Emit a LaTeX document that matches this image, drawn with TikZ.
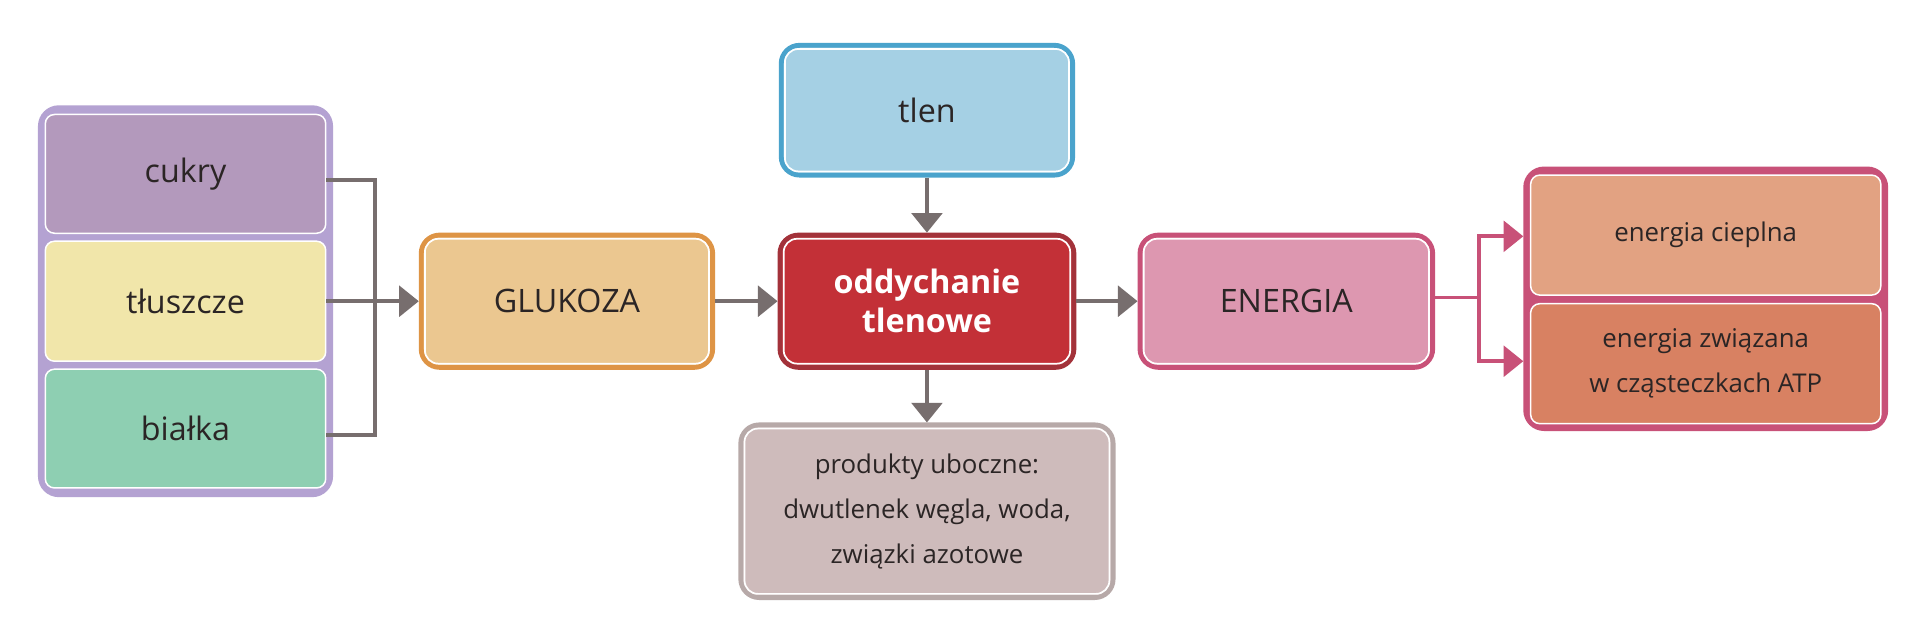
\documentclass[tikz,border=0pt]{standalone}
\usepackage{fontspec}
\setmainfont{Open Sans}
\usetikzlibrary{arrows.meta}
\definecolor{gr}{HTML}{776E6E}
\definecolor{lavb}{HTML}{B4A2D2}
\definecolor{cuk}{HTML}{B399BC}
\definecolor{tlu}{HTML}{F1E6AA}
\definecolor{bia}{HTML}{8ECFB2}
\definecolor{glub}{HTML}{DE9445}
\definecolor{gluf}{HTML}{EBC790}
\definecolor{oddb}{HTML}{A3323A}
\definecolor{oddf}{HTML}{C33037}
\definecolor{tlb}{HTML}{4AA3CC}
\definecolor{tlf}{HTML}{A5D0E4}
\definecolor{prb}{HTML}{B7A9A8}
\definecolor{prf}{HTML}{CEBBBB}
\definecolor{enb}{HTML}{C85178}
\definecolor{enf}{HTML}{DD97B0}
\definecolor{cie}{HTML}{E2A282}
\definecolor{zwi}{HTML}{D88162}
\definecolor{txt}{HTML}{2B2525}
\tikzset{
  box/.style={draw, line width=0.08cm, rounded corners=0.3cm, text=txt, align=center, font=\fontsize{15}{18}\selectfont},
  sub/.style={draw=white, line width=0.7pt, rounded corners=0.15cm, text=txt, align=center},
  inl/.style={draw=white, line width=0.8pt, rounded corners=0.22cm},
  arr/.style={draw=gr, line width=0.06cm, -{Triangle[length=0.32cm,width=0.5cm]}},
  con/.style={draw=gr, line width=0.06cm},
}
\newcommand{\inner}[1]{\draw[inl] ([shift={(5,-5)}]#1.south west) rectangle ([shift={(-5,5)}]#1.north east);}
\begin{document}
\begin{tikzpicture}[x=0.02cm,y=-0.02cm]
\useasboundingbox[fill=white] (0,0) rectangle (1568,523);
% left group
\node[box, draw=lavb, fill=lavb, minimum width=237*0.02cm, minimum height=316*0.02cm] (lg) at (151.5,246) {};
\node[sub, fill=cuk, minimum width=229*0.02cm, minimum height=97*0.02cm, font=\fontsize{15}{18}\selectfont] (cukry) at (151.5,142) {cukry};
\node[sub, fill=tlu, minimum width=229*0.02cm, minimum height=98*0.02cm, font=\fontsize{15}{18}\selectfont] (tlu) at (151.5,246) {tłuszcze};
\node[sub, fill=bia, minimum width=229*0.02cm, minimum height=97*0.02cm, font=\fontsize{15}{18}\selectfont] (bia) at (151.5,350) {białka};
% glukoza
\node[box, draw=glub, fill=gluf, minimum width=238*0.02cm, minimum height=108*0.02cm] (glu) at (463,246) {GLUKOZA};
\inner{glu}
% oddychanie
\node[box, draw=oddb, fill=oddf, text=white, minimum width=240*0.02cm, minimum height=108*0.02cm, font=\fontsize{15}{18}\selectfont\bfseries] (odd) at (757,246) {oddychanie\\tlenowe};
\inner{odd}
% tlen
\node[box, draw=tlb, fill=tlf, minimum width=238*0.02cm, minimum height=106*0.02cm] (tlen) at (757,90) {tlen};
\inner{tlen}
% produkty
\node[box, draw=prb, fill=prf, minimum width=304*0.02cm, minimum height=141*0.02cm, font=\fontsize{12}{21}\selectfont] (pro) at (757,417.5) {produkty uboczne:\\dwutlenek węgla, woda,\\związki azotowe};
\inner{pro}
% energia
\node[box, draw=enb, fill=enf, minimum width=239*0.02cm, minimum height=108*0.02cm] (ene) at (1050.5,246) {ENERGIA};
\inner{ene}
% right group
\node[box, draw=enb, fill=enb, minimum width=294*0.02cm, minimum height=212*0.02cm] (rg) at (1393,244) {};
\node[sub, fill=cie, minimum width=286*0.02cm, minimum height=98*0.02cm, font=\fontsize{12}{16}\selectfont] (cie) at (1393,192) {energia cieplna};
\node[sub, fill=zwi, minimum width=286*0.02cm, minimum height=98*0.02cm, font=\fontsize{12}{21}\selectfont] (zwi) at (1393,297) {energia związana\\w cząsteczkach ATP};
% connectors left
\coordinate (bx) at (306,246);
\draw[con] (cukry.east |- 0,147) -| (bx);
\draw[con] (bia.east |- 0,355) -| (bx);
\draw[con] (tlu.east) -- (bx);
\draw[arr] (bx) -- (glu.west);
\draw[arr] (glu.east) -- (odd.west);
\draw[arr] (odd.east) -- (ene.west);
\draw[arr] (tlen.south) -- (odd.north);
\draw[arr] (odd.south) -- (pro.north);
% right connectors
\coordinate (rx) at (1208,243);
\draw[draw=enb, line width=0.06cm] (ene.east |- rx) -- (rx);
\draw[draw=enb, line width=0.06cm, -{Triangle[length=0.32cm,width=0.5cm]}] (rx) |- (rg.west |- 0,193);
\draw[draw=enb, line width=0.06cm, -{Triangle[length=0.32cm,width=0.5cm]}] (rx) |- (rg.west |- 0,295);
\end{tikzpicture}
\end{document}
